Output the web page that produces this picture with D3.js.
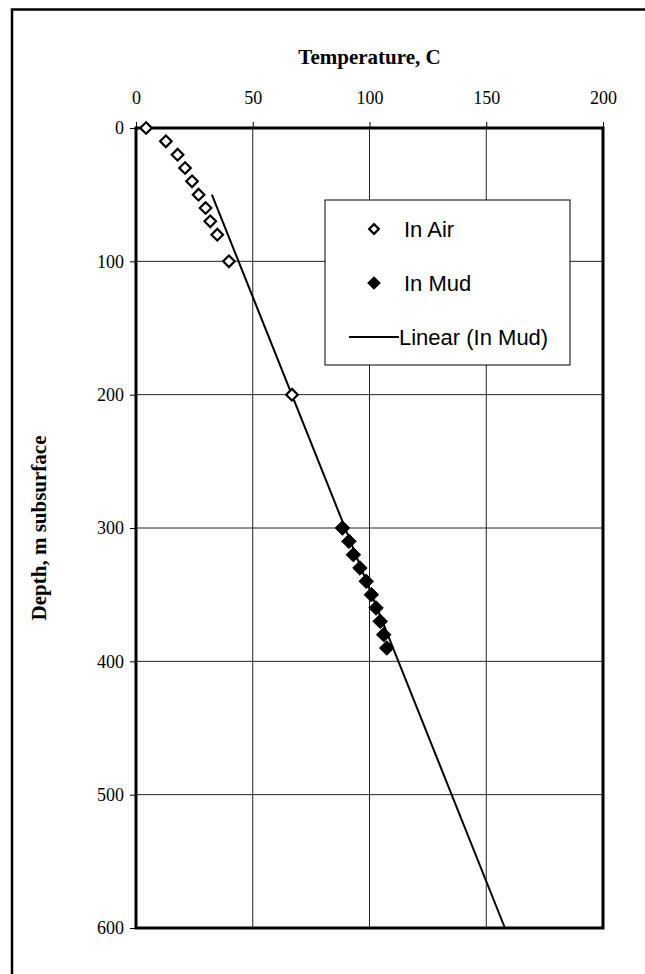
<!DOCTYPE html>
<html lang="en">
<head>
<meta charset="utf-8">
<title>Temperature vs depth</title>
<script src="https://cdn.jsdelivr.net/npm/d3@7"></script>
<style>
	body { margin: 0; padding: 0; background: #fff; }
	.tick-label { font-family: "Liberation Serif", "Times New Roman", serif; font-size: 18px; fill: #000; }
	.axis-title { font-family: "Liberation Serif", "Times New Roman", serif; font-size: 21px; font-weight: bold; fill: #000; }
	.legend-text { font-family: "Liberation Sans", Arial, sans-serif; font-size: 22px; fill: #000; }
</style>
</head>
<body>
<div id="chart"></div>
<script>
	// data
	var airDepth = [0, 10, 20, 30, 40, 50, 60, 70, 80, 100, 200];
	var airTemp = [4.3, 12.8, 17.8, 21, 24, 26.8, 29.8, 31.8, 34.8, 39.8, 66.8];

	var mudDepth = [300, 310, 320, 330, 340, 350, 360, 370, 380, 390];
	var mudTemp = [88.4, 91.2, 93.1, 95.9, 98.6, 100.8, 102.8, 104.6, 106.1, 107.4];

	// linear trend (In Mud), ends as drawn
	var trendDepth = [50, 600];
	var trendTemp = [32.5, 158];

	var xTicks = [0, 50, 100, 150, 200];
	var yTicks = [0, 100, 200, 300, 400, 500, 600];
	var legendLabels = ["In Air", "In Mud", "Linear (In Mud)"];

	var W = 645, H = 974;
	var margin = { top: 128, left: 136, right: 42, bottom: 46 };
	var w = W - margin.left - margin.right;
	var h = H - margin.top - margin.bottom;

	var svg = d3.select("#chart").append("svg")
		.attr("width", W)
		.attr("height", H);

	// outer frame (runs off the right and bottom edges)
	svg.append("path")
		.attr("d", "M12,990 L12,9.5 L660,9.5")
		.attr("fill", "none")
		.attr("stroke", "#000")
		.attr("stroke-width", 2.5);

	var x = d3.scaleLinear().domain([0, 200]).range([0, w]);
	var y = d3.scaleLinear().domain([0, 600]).range([0, h]);

	var g = svg.append("g").attr("transform", "translate(" + margin.left + "," + margin.top + ")");

	// grid
	g.selectAll("line.vgrid")
		.data(xTicks.slice(1, -1))
		.enter().append("line")
		.attr("x1", d => x(d)).attr("x2", d => x(d))
		.attr("y1", 0).attr("y2", h)
		.attr("stroke", "#222").attr("stroke-width", 1);

	g.selectAll("line.hgrid")
		.data(yTicks.slice(1, -1))
		.enter().append("line")
		.attr("x1", 0).attr("x2", w)
		.attr("y1", d => y(d)).attr("y2", d => y(d))
		.attr("stroke", "#222").attr("stroke-width", 1);

	// axes
	var xAxis = g.append("g").call(d3.axisTop(x).tickValues(xTicks).tickSize(6).tickPadding(18));
	var yAxis = g.append("g").call(d3.axisLeft(y).tickValues(yTicks).tickSize(6).tickPadding(6));
	[xAxis, yAxis].forEach(function (a) {
		a.select(".domain").remove();
		a.selectAll("line").attr("stroke", "#000");
		a.selectAll("text").attr("class", "tick-label").attr("font-size", null).attr("font-family", null);
	});

	// plot frame
	g.append("rect")
		.attr("width", w).attr("height", h)
		.attr("fill", "none")
		.attr("stroke", "#000")
		.attr("stroke-width", 3);

	// trend line
	g.append("line")
		.attr("x1", x(trendTemp[0])).attr("y1", y(trendDepth[0]))
		.attr("x2", x(trendTemp[1])).attr("y2", y(trendDepth[1]))
		.attr("stroke", "#000").attr("stroke-width", 2);

	var diamond = d3.symbol().type(d3.symbolDiamond2);

	// In Air
	g.selectAll("path.air")
		.data(airDepth)
		.enter().append("path")
		.attr("d", diamond.size(85)())
		.attr("transform", (d, i) => "translate(" + x(airTemp[i]) + "," + y(d) + ")")
		.attr("fill", "#fff").attr("stroke", "#000").attr("stroke-width", 2.2);

	// In Mud
	g.selectAll("path.mud")
		.data(mudDepth)
		.enter().append("path")
		.attr("d", diamond.size(135)())
		.attr("transform", (d, i) => "translate(" + x(mudTemp[i]) + "," + y(d) + ")")
		.attr("fill", "#000").attr("stroke", "#000").attr("stroke-width", 1);

	// titles
	svg.append("text")
		.attr("class", "axis-title")
		.attr("x", margin.left + w / 2).attr("y", 64)
		.attr("text-anchor", "middle")
		.text("Temperature, C");

	svg.append("text")
		.attr("class", "axis-title")
		.attr("transform", "translate(46," + (margin.top + h / 2) + ") rotate(-90)")
		.attr("text-anchor", "middle")
		.text("Depth, m subsurface");

	// legend
	var lg = svg.append("g").attr("transform", "translate(325,200)");
	lg.append("rect")
		.attr("width", 245).attr("height", 165)
		.attr("fill", "#fff").attr("stroke", "#000").attr("stroke-width", 1);

	var rowY = [29, 83, 137];
	lg.append("path").attr("d", diamond.size(60)())
		.attr("transform", "translate(49," + rowY[0] + ")")
		.attr("fill", "#fff").attr("stroke", "#000").attr("stroke-width", 2.2);
	lg.append("path").attr("d", diamond.size(120)())
		.attr("transform", "translate(49," + rowY[1] + ")")
		.attr("fill", "#000");
	lg.append("line")
		.attr("x1", 24).attr("x2", 74)
		.attr("y1", rowY[2]).attr("y2", rowY[2])
		.attr("stroke", "#000").attr("stroke-width", 2);

	lg.selectAll("text.legend-text")
		.data(legendLabels)
		.enter().append("text")
		.attr("class", "legend-text")
		.attr("x", (d, i) => i < 2 ? 79 : 74)
		.attr("y", (d, i) => rowY[i] + 8)
		.text(d => d);
</script>
</body>
</html>
